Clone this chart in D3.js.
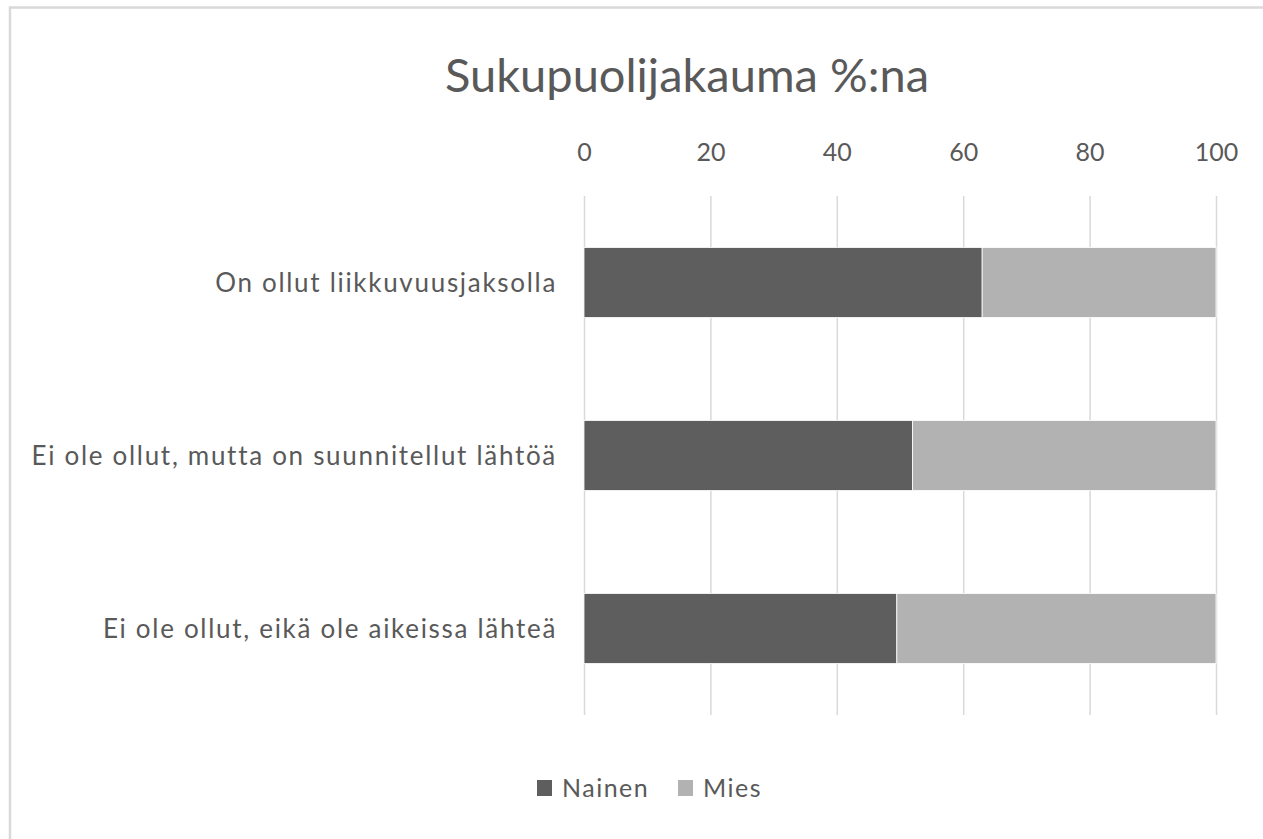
<!DOCTYPE html>
<html>
<head>
<meta charset="utf-8">
<script src="https://cdn.jsdelivr.net/npm/d3@7"></script>
<style>
  body { margin: 0; background: #fff; }
  svg text { font-family: Lato, 'Open Sans', sans-serif; fill: #595959; }
</style>
</head>
<body>
<script>
// chart data
const categories = [
  'On ollut liikkuvuusjaksolla',
  'Ei ole ollut, mutta on suunnitellut lähtöä',
  'Ei ole ollut, eikä ole aikeissa lähteä'
];
const nainen = [63, 52, 49.5];
const mies = [37, 48, 50.5];
const seriesNames = ['Nainen', 'Mies'];
const seriesColors = ['#5e5e5e', '#b2b2b2'];
const tickValues = [0, 20, 40, 60, 80, 100];

const width = 1263;
const height = 839;
const plot = {left: 584, right: 1216, top: 196, bottom: 715};

const svg = d3.select('body')
  .append('svg')
  .attr('width', width)
  .attr('height', height);

// outer chart border (runs off the right and bottom of the picture)
svg.append('rect')
  .attr('x', 10)
  .attr('y', 7.5)
  .attr('width', width + 20)
  .attr('height', height + 20)
  .attr('fill', '#fff')
  .attr('stroke', '#d9d9d9')
  .attr('stroke-width', 2.5);

svg.append('text')
  .attr('x', 687)
  .attr('y', 92)
  .attr('text-anchor', 'middle')
  .style('font-size', '47px')
  .text('Sukupuolijakauma %:na');

const x = d3.scaleLinear()
  .domain([0, 100])
  .range([plot.left, plot.right]);

const y = d3.scaleBand()
  .domain(categories)
  .range([plot.top, plot.bottom])
  .paddingInner(0.595)
  .paddingOuter(0.2975);

// gridlines + top tick labels
const axis = svg.append('g')
  .attr('transform', `translate(0,${plot.top})`)
  .call(d3.axisTop(x)
    .tickValues(tickValues)
    .tickSize(-(plot.bottom - plot.top))
    .tickPadding(35));
axis.select('.domain').remove();
axis.selectAll('.tick line')
  .attr('stroke', '#d9d9d9')
  .attr('stroke-width', 1.5);
axis.selectAll('.tick text')
  .attr('fill', '#595959')
  .style('font-size', '25px')
  .style('font-family', 'Lato, sans-serif');

// stacked bars
const rows = categories.map((c, i) => ({cat: c, parts: [nainen[i], mies[i]]}));
rows.forEach(r => {
  let start = 0;
  r.parts.forEach((v, j) => {
    svg.append('rect')
      .attr('x', x(start))
      .attr('y', y(r.cat))
      .attr('width', x(start + v) - x(start))
      .attr('height', y.bandwidth())
      .attr('fill', seriesColors[j])
      .attr('stroke', '#fff')
      .attr('stroke-width', 0.8);
    start += v;
  });
});

// category labels
svg.selectAll('.cat')
  .data(categories)
  .enter().append('text')
    .attr('class', 'cat')
    .attr('x', 557)
    .attr('y', d => y(d) + y.bandwidth() / 2)
    .attr('dy', '0.36em')
    .attr('text-anchor', 'end')
    .style('font-size', '26px')
    .style('letter-spacing', '1.7px')
    .text(d => d);

// legend
const legendX = [537, 678];
const legend = svg.selectAll('.legend')
  .data(seriesNames)
  .enter().append('g')
    .attr('class', 'legend')
    .attr('transform', (d, i) => `translate(${legendX[i]},780)`);
legend.append('rect')
  .attr('width', 15)
  .attr('height', 16)
  .attr('fill', (d, i) => seriesColors[i]);
legend.append('text')
  .attr('x', 25)
  .attr('y', 17)
  .style('font-size', '25px')
  .style('letter-spacing', '1.5px')
  .text(d => d);
</script>
</body>
</html>
